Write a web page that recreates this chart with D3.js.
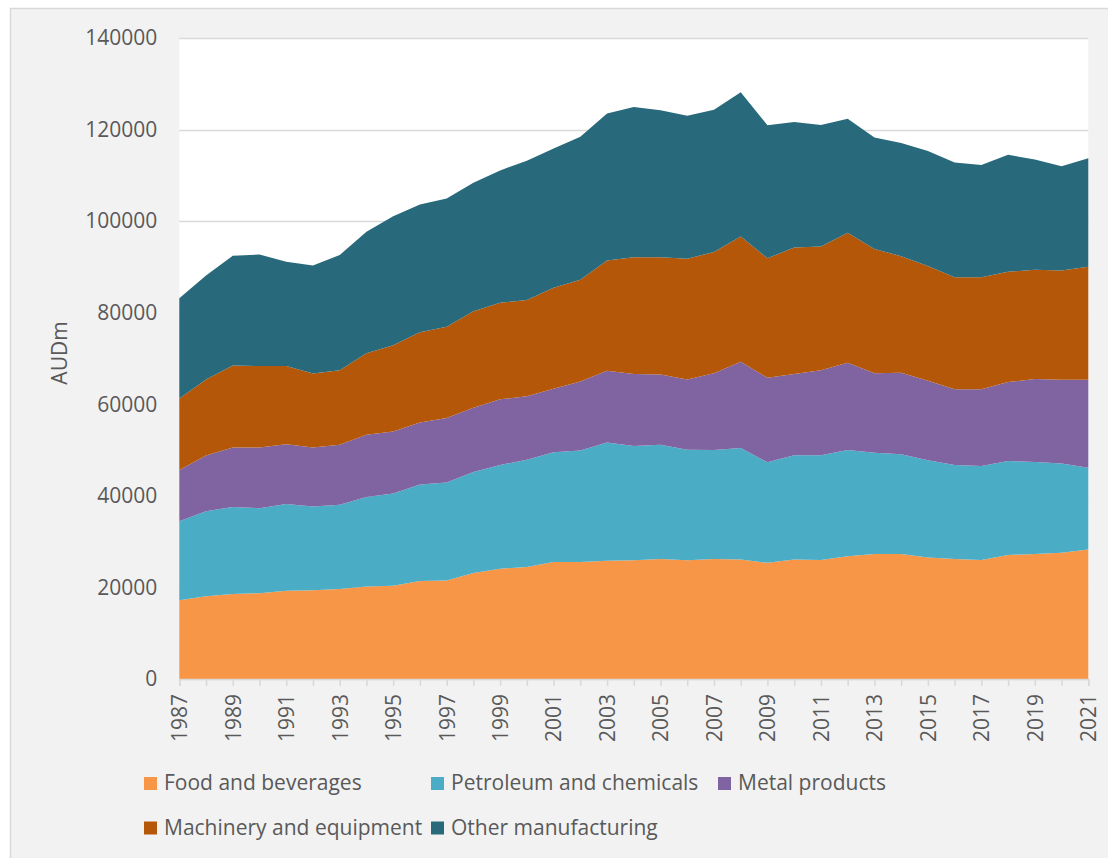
<!DOCTYPE html>
<html>
<head>
<meta charset="utf-8">
<script src="https://cdn.jsdelivr.net/npm/d3@7"></script>
<style>
  html, body { margin: 0; padding: 0; background: #ffffff; }
  svg { display: block; font-family: "Open Sans", "Noto Sans", sans-serif; }
</style>
</head>
<body>
<svg id="chart" width="1108" height="858"></svg>
<script>
// Manufacturing output by industry, AUD million
const years = [1987, 1988, 1989, 1990, 1991, 1992, 1993, 1994, 1995, 1996, 1997, 1998,
  1999, 2000, 2001, 2002, 2003, 2004, 2005, 2006, 2007, 2008, 2009, 2010,
  2011, 2012, 2013, 2014, 2015, 2016, 2017, 2018, 2019, 2020, 2021];

const foodBeverages = [17180, 18100, 18560, 18750, 19300, 19390, 19670, 20210, 20390, 21420, 21500, 23160,
  24080, 24450, 25540, 25540, 25820, 25910, 26200, 25910, 26200, 26090, 25370, 26090,
  26000, 26830, 27290, 27290, 26550, 26200, 26000, 27110, 27290, 27570, 28290];

const petroleumChemicals = [17270, 18550, 19010, 18560, 18920, 18290, 18380, 19560, 20130, 21040, 21420, 22050,
  22680, 23420, 23990, 24340, 25810, 25000, 24970, 24170, 23790, 24360, 21960, 22790,
  22880, 23160, 22130, 21780, 21240, 20560, 20500, 20480, 20120, 19470, 17840];

const metalProducts = [11220, 12140, 12970, 13230, 13060, 12860, 13120, 13600, 13510, 13580, 14060, 14060,
  14340, 13870, 13860, 15090, 15720, 15690, 15350, 15340, 16810, 18840, 18470, 17720,
  18550, 19100, 17380, 17820, 17350, 16550, 16810, 17270, 18100, 18300, 19210];

const machineryEquipment = [15610, 16630, 17920, 17810, 17070, 16170, 16260, 17750, 18840, 19670, 19930, 21040,
  21050, 21040, 22050, 22220, 24070, 25540, 25620, 26380, 26460, 27370, 26080, 27660,
  27030, 28400, 27090, 25450, 25080, 24430, 24430, 24080, 23880, 23880, 24710];

const otherManufacturing = [21870, 22690, 23970, 24360, 22790, 23600, 25190, 26550, 28200, 27940, 28010, 28100,
  28920, 30410, 30410, 31240, 32070, 32810, 32070, 31230, 31060, 31500, 29040, 27380,
  26540, 24890, 24360, 24710, 25090, 25080, 24530, 25540, 24080, 22790, 23710];

const seriesNames = ["Food and beverages", "Petroleum and chemicals", "Metal products",
  "Machinery and equipment", "Other manufacturing"];
const seriesColors = ["#f79646", "#4bacc6", "#8064a2", "#b55708", "#286a7b"];
const yTicks = [0, 20000, 40000, 60000, 80000, 100000, 120000, 140000];
const yTitle = "AUDm";

// Rows for the stack generator
const seriesValues = [foodBeverages, petroleumChemicals, metalProducts, machineryEquipment, otherManufacturing];
const rows = years.map((yr, i) => {
  const row = { year: yr };
  seriesNames.forEach((name, s) => { row[name] = seriesValues[s][i]; });
  return row;
});

const svg = d3.select("#chart");
const textColor = "#595959";
const lineColor = "#d9d9d9";
const fontSize = 21;

// Chart area background with its frame
svg.append("rect")
  .attr("x", 10.5).attr("y", 8.5)
  .attr("width", 1120).attr("height", 880)
  .attr("fill", "#f2f2f2")
  .attr("stroke", lineColor).attr("stroke-width", 1.5);

const plot = { left: 179.3, right: 1088.3, top: 38, bottom: 679 };

const x = d3.scaleLinear().domain([years[0], years[years.length - 1]]).range([plot.left, plot.right]);
const y = d3.scaleLinear().domain([0, 140000]).range([plot.bottom, plot.top]);

// Plot area
svg.append("rect")
  .attr("x", plot.left).attr("y", plot.top)
  .attr("width", plot.right - plot.left).attr("height", plot.bottom - plot.top)
  .attr("fill", "#ffffff");

// Horizontal gridlines
svg.append("g")
  .selectAll("line")
  .data(yTicks)
  .join("line")
  .attr("x1", plot.left).attr("x2", plot.right)
  .attr("y1", d => Math.round(y(d)) + 0.5).attr("y2", d => Math.round(y(d)) + 0.5)
  .attr("stroke", lineColor).attr("stroke-width", 1.5);

// Stacked areas
const stack = d3.stack().keys(seriesNames);
const layers = stack(rows);
const area = d3.area()
  .x(d => x(d.data.year))
  .y0(d => y(d[0]))
  .y1(d => y(d[1]));

svg.append("g")
  .selectAll("path")
  .data(layers)
  .join("path")
  .attr("d", area)
  .attr("fill", (d, i) => seriesColors[i]);

// Y axis labels
const yAxis = d3.axisLeft(y).tickValues(yTicks).tickFormat(d3.format("d")).tickSize(0).tickPadding(22);
const yG = svg.append("g").attr("transform", `translate(${plot.left},0)`).call(yAxis);
yG.select(".domain").remove();
yG.selectAll("text")
  .attr("fill", textColor)
  .style("font-size", fontSize + "px")
  .style("font-family", "'Open Sans', sans-serif");

// X axis: tick every year, label every second year
const xAxis = d3.axisBottom(x)
  .tickValues(years)
  .tickSize(7)
  .tickFormat(d => ((d - years[0]) % 2 === 0 ? String(d) : ""));
const xG = svg.append("g").attr("transform", `translate(0,${plot.bottom})`).call(xAxis);
xG.select(".domain").attr("stroke", lineColor).attr("stroke-width", 1.5);
xG.selectAll(".tick line").attr("stroke", lineColor).attr("stroke-width", 1.5);
xG.selectAll("text")
  .attr("fill", textColor)
  .style("font-size", fontSize + "px")
  .style("font-family", "'Open Sans', sans-serif")
  .attr("text-anchor", "end")
  .attr("transform", "rotate(-90)")
  .attr("x", -15)
  .attr("y", 0)
  .attr("dy", "0.35em");

// Y axis title
svg.append("text")
  .attr("transform", "translate(67,353) rotate(-90)")
  .attr("text-anchor", "middle")
  .attr("fill", textColor)
  .style("font-size", fontSize + "px")
  .text(yTitle);

// Legend: three-column grid
const legend = svg.append("g");
const colWidth = 287;
const rowHeight = 44.5;
seriesNames.forEach((name, i) => {
  const col = i % 3, row = Math.floor(i / 3);
  const gx = 144 + col * colWidth;
  const gy = 777 + row * rowHeight;
  legend.append("rect")
    .attr("x", gx).attr("y", gy)
    .attr("width", 13).attr("height", 13)
    .attr("fill", seriesColors[i]);
  legend.append("text")
    .attr("x", gx + 20).attr("y", gy + 13)
    .attr("fill", textColor)
    .style("font-size", fontSize + "px")
    .text(name);
});
</script>
</body>
</html>
